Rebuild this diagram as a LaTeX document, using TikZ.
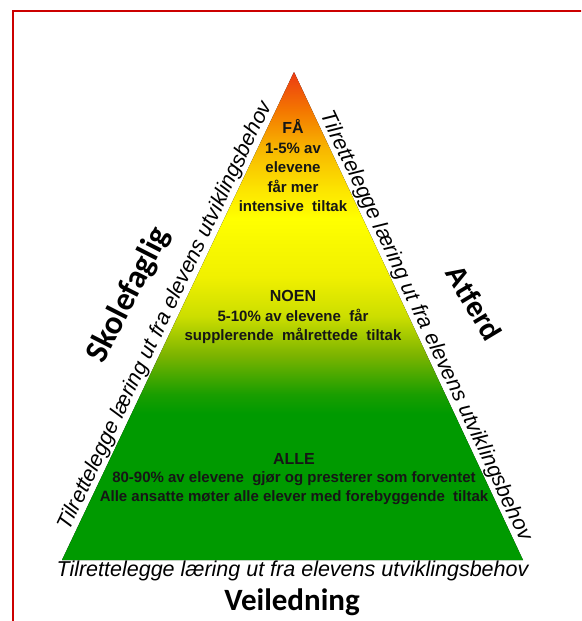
\documentclass[tikz,border=0pt]{standalone}
\usepackage{fontspec}
\setmainfont{Liberation Sans}
\newfontfamily\calfont{Carlito}

\definecolor{frameRed}{HTML}{CC0000}
\definecolor{grnA}{HTML}{009A00}
\definecolor{grnB}{HTML}{1A9E00}
\definecolor{olvA}{HTML}{7CB400}
\definecolor{ylgA}{HTML}{CCDE00}
\definecolor{ylwB}{HTML}{F0F000}
\definecolor{ylwA}{HTML}{FFFF00}
\definecolor{ambA}{HTML}{FCE400}
\definecolor{ambB}{HTML}{F8B800}
\definecolor{orgA}{HTML}{F47800}
\definecolor{redA}{HTML}{EC3A12}
\definecolor{inkA}{HTML}{161616}

% colours of the pyramid, bottom (25bp) to top (75bp)
\pgfdeclareverticalshading{pyramidshade}{100bp}{%
  color(0bp)=(grnA); color(40bp)=(grnA); color(42bp)=(grnB);
  color(46bp)=(olvA); color(50bp)=(ylgA); color(54bp)=(ylwB);
  color(60bp)=(ylwA); color(63bp)=(ambA); color(67bp)=(ambB);
  color(71bp)=(orgA); color(75bp)=(redA); color(100bp)=(redA)}

\newcommand{\tierhead}[1]{{\fontsize{16}{19}\selectfont #1}}

\begin{document}
\begin{tikzpicture}[
    x=1pt, y=-1pt,
    frame/.style={draw=frameRed, line width=2pt},
    tier/.style={align=center, text=inkA, font=\bfseries\fontsize{15}{19.5}\selectfont, inner sep=0pt},
    sidetext/.style={font=\itshape\fontsize{21.5}{25}\selectfont, inner sep=1pt},
    heading/.style={font=\calfont\bfseries\fontsize{33}{40}\selectfont, inner sep=0pt}
]
\useasboundingbox (0,0) rectangle (581,621);
\clip (0,0) rectangle (581,621);

% Frame
\draw[frame] (13,11) rectangle (640,680);

% Pyramid
\coordinate (apex) at (294,72);
\coordinate (bl) at (62,560);
\coordinate (br) at (523,560);
\fill[shading=pyramidshade] (apex) -- (br) -- (bl) -- cycle;

% Tiers
\node[tier] (fa) at (293,166) {\tierhead{FÅ}\\1-5\% av\\elevene\\får mer\\intensive\ \ tiltak};
\node[tier] (noen) at (293,317) {\tierhead{NOEN}\\5-10\% av elevene\ \ får\\supplerende\ \ målrettede\ \ tiltak};
\node[tier, font=\bfseries\fontsize{15}{18.5}\selectfont] (alle) at (294,479) {\tierhead{ALLE}\\80-90\% av elevene\ \ gjør og presterer som forventet\\Alle ansatte møter alle elever med forebyggende\ \ tiltak};

% Texts along the sides
\path (bl) -- node[sidetext, sloped, above, pos=0.49] (sideL) {Tilrettelegge læring ut fra elevens utviklingsbehov} (apex);
\path (apex) -- node[sidetext, sloped, above, pos=0.53] (sideR) {Tilrettelegge læring ut fra elevens utviklingsbehov} (br);
\path (bl) -- node[sidetext, below] (sideB) {Tilrettelegge læring ut fra elevens utviklingsbehov} (br);

% Headings
\node[heading, rotate=63] (skole) at (129,295) {Skolefaglig};
\node[heading, font=\bfseries\fontsize{28}{32}\selectfont, rotate=-59] (atferd) at (474,303) {Atferd};
\node[heading, font=\calfont\bfseries\fontsize{31}{36}\selectfont, anchor=base] (veil) at (292,610) {Veiledning};

\end{tikzpicture}
\end{document}
